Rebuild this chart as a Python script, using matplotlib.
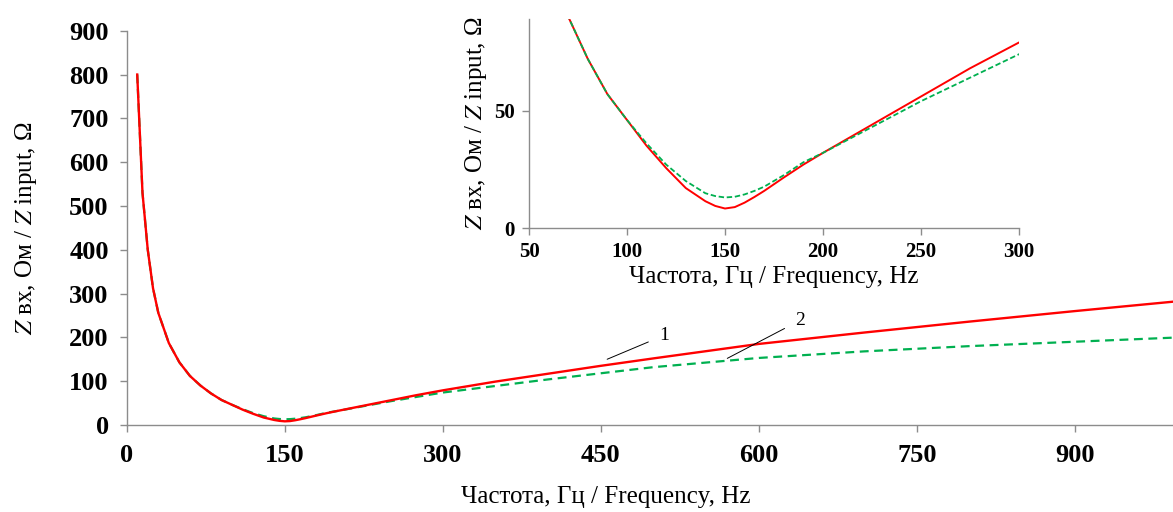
import numpy as np
import matplotlib.pyplot as plt

plt.rcParams['font.family'] = ['Liberation Serif', 'DejaVu Serif']
plt.rcParams['mathtext.fontset'] = 'stix'

# частоты, Гц
freq = [10, 15, 20, 25, 30, 40, 50, 60, 70, 80, 90, 100, 110, 120, 130, 140,
        145, 150, 155, 160, 165, 170, 180, 190, 200, 225, 250, 275, 300, 350,
        400, 450, 500, 600, 700, 800, 900, 1000]
# кривая 1
z1 = [800, 530, 400, 312, 256, 187, 143, 112, 90, 72, 57, 46, 35, 25.5, 17, 11.4,
      9.4, 8.3, 8.9, 10.8, 13.2, 15.8, 21.5, 27, 32, 44, 56, 68, 79, 99,
      117, 135, 152, 185, 211, 236, 260, 283]
# кривая 2
z2 = [800, 530, 400, 312, 256, 187, 143, 112, 90, 72, 57, 46, 36, 27, 20, 14.8,
      13.6, 13, 13.3, 14.3, 15.8, 17.6, 22.5, 28, 32, 43, 54, 64, 74, 89,
      104, 118, 132, 153, 168, 180, 190, 200]

xticks_main = [0, 150, 300, 450, 600, 750, 900]
yticks_main = [0, 100, 200, 300, 400, 500, 600, 700, 800, 900]
xticks_ins = [50, 100, 150, 200, 250, 300]
yticks_ins = [0, 50]

ylab = '$Z$ вх, Ом / $Z$ input, Ω'
xlab = 'Частота, Гц / Frequency, Hz'
gris = '#8c8c8c'


def estilo(ax, fs):
    for s in ['top', 'right']:
        ax.spines[s].set_visible(False)
    for s in ['left', 'bottom']:
        ax.spines[s].set_color(gris)
        ax.spines[s].set_linewidth(1.0)
    ax.tick_params(direction='out', length=5, width=1.0, color=gris,
                   labelsize=fs)
    for t in ax.get_xticklabels() + ax.get_yticklabels():
        t.set_fontweight('bold')


fig = plt.figure(figsize=(11.73, 5.12), dpi=100)

ax = fig.add_axes([0.108, 0.170, 0.892, 0.770])
ax.plot(freq, z2, color='#00b050', lw=1.6, dashes=(4, 2.5))
ax.plot(freq, z1, color='#ff0000', lw=1.7)
ax.set_xlim(0, 993)
ax.set_ylim(0, 900)
ax.set_xticks(xticks_main)
ax.set_yticks(yticks_main)
estilo(ax, 19)
ax.tick_params(axis='x', pad=9)
ax.tick_params(axis='y', pad=8)
ax.set_ylabel(ylab, fontsize=18, labelpad=22)
fig.text(606 / 1173, 1 - 497 / 512, xlab, fontsize=18, ha='center', va='center')

# выноски 1 и 2
ax.annotate('1', xy=(456, 150), xytext=(505, 194), fontsize=14,
            arrowprops=dict(arrowstyle='-', color='black', lw=0.7,
                            shrinkA=6, shrinkB=0))
ax.annotate('2', xy=(570, 152), xytext=(634, 228), fontsize=14,
            arrowprops=dict(arrowstyle='-', color='black', lw=0.7,
                            shrinkA=6, shrinkB=0))

# врезка
axi = fig.add_axes([529 / 1173, 1 - 228 / 512, 490 / 1173, 209 / 512])
axi.plot(freq, z1, color='#ff0000', lw=1.4)
axi.plot(freq, z2, color='#00b050', lw=1.3, dashes=(3, 1.5))
axi.set_xlim(50, 300)
axi.set_ylim(0, 89)
axi.set_xticks(xticks_ins)
axi.set_yticks(yticks_ins)
estilo(axi, 15)
axi.tick_params(axis='x', pad=5)
axi.tick_params(axis='y', pad=5)
axi.set_xlabel(xlab, fontsize=18, labelpad=3)
axi.set_ylabel(ylab, fontsize=18, labelpad=4)

fig.savefig('out.png', dpi=100)
